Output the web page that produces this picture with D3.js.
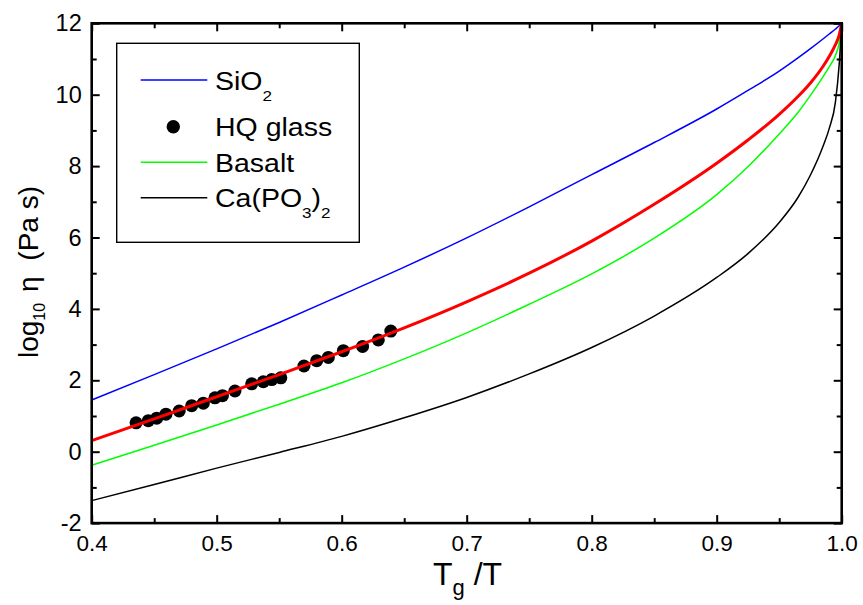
<!DOCTYPE html>
<html>
<head>
<meta charset="utf-8">
<script src="https://cdn.jsdelivr.net/npm/d3@7"></script>
<style>
  body { margin: 0; background: #fff; }
  svg { display: block; font-family: "Liberation Sans", Arial, Helvetica, sans-serif; }
</style>
</head>
<body>
<svg id="chart" width="863" height="605"></svg>
<script>
// ---------- data ----------
const tgT = [0.40, 0.45, 0.50, 0.55, 0.60, 0.65, 0.70, 0.75, 0.80, 0.85, 0.90, 0.925, 0.95, 0.965, 0.975, 0.985, 0.99, 0.995, 0.998, 1.0];
const sio2 = [1.45, 2.16, 2.88, 3.62, 4.39, 5.17, 5.99, 6.86, 7.76, 8.66, 9.60, 10.12, 10.66, 11.03, 11.29, 11.56, 11.70, 11.84, 11.93, 12.0];
const hqFit = [0.31, 0.92, 1.54, 2.16, 2.80, 3.47, 4.20, 5.00, 5.90, 6.93, 8.08, 8.73, 9.45, 9.95, 10.33, 10.79, 11.07, 11.40, 11.67, 12.0];
const basalt = [-0.38, 0.18, 0.75, 1.33, 1.93, 2.60, 3.33, 4.13, 4.98, 5.98, 7.20, 7.98, 8.90, 9.50, 9.98, 10.50, 10.78, 11.10, 11.45, 12.0];
const capo3 = [-1.37, -0.92, -0.46, -0.02, 0.43, 0.95, 1.52, 2.18, 2.92, 3.80, 4.88, 5.55, 6.42, 7.12, 7.75, 8.55, 9.05, 9.80, 10.85, 12.0];

const hqX = [0.4355, 0.4453, 0.452, 0.4594, 0.470, 0.480, 0.4893, 0.4986, 0.5046, 0.5146, 0.528, 0.5373, 0.544, 0.5513, 0.5698, 0.580, 0.5893, 0.6013, 0.6167, 0.6293, 0.6393];
const hqY = [0.81, 0.87, 0.94, 1.05, 1.14, 1.29, 1.36, 1.51, 1.57, 1.70, 1.90, 1.96, 2.02, 2.07, 2.40, 2.55, 2.64, 2.83, 2.95, 3.13, 3.38];

const xTicks = [0.4, 0.5, 0.6, 0.7, 0.8, 0.9, 1.0];
const xTickLabels = ["0.4", "0.5", "0.6", "0.7", "0.8", "0.9", "1.0"];
const xMinor = [0.45, 0.55, 0.65, 0.75, 0.85, 0.95];
const yTicks = [-2, 0, 2, 4, 6, 8, 10, 12];
const yTickLabels = ["-2", "0", "2", "4", "6", "8", "10", "12"];
const yMinor = [-1, 1, 3, 5, 7, 9, 11];

const seriesNames = ["SiO", "HQ glass", "Basalt", "Ca(PO"];
const colors = { sio2: "#0000ff", fit: "#ff0000", basalt: "#00ff00", capo3: "#000000" };

// ---------- layout ----------
const svg = d3.select("#chart");
const L = 91.7, R = 841.7, T = 23.3, B = 523.1;
const x = d3.scaleLinear().domain([0.4, 1.0]).range([L, R]);
const y = d3.scaleLinear().domain([-2, 12]).range([B, T]);

// ---------- axes (ticks inward) ----------
function styleAxis(g) {
  g.select(".domain").remove();
  g.selectAll(".tick line").attr("stroke", "#000").attr("stroke-width", 2);
  g.selectAll(".tick text").attr("fill", "#000");
}
svg.append("g").attr("transform", `translate(0,${B})`)
  .call(d3.axisBottom(x).tickValues(xTicks).tickSize(-8).tickPadding(12)
    .tickFormat((d, i) => xTickLabels[i]))
  .call(styleAxis)
  .selectAll("text").attr("font-size", 22.5).attr("font-family", "Liberation Sans, Arial, sans-serif");
svg.append("g").attr("transform", `translate(0,${B})`)
  .call(d3.axisBottom(x).tickValues(xMinor).tickSize(-5).tickFormat(""))
  .call(styleAxis);
svg.append("g").attr("transform", `translate(0,${T})`)
  .call(d3.axisTop(x).tickValues(xTicks).tickSize(-8).tickFormat(""))
  .call(styleAxis);
svg.append("g").attr("transform", `translate(0,${T})`)
  .call(d3.axisTop(x).tickValues(xMinor).tickSize(-5).tickFormat(""))
  .call(styleAxis);
svg.append("g").attr("transform", `translate(${L},0)`)
  .call(d3.axisLeft(y).tickValues(yTicks).tickSize(-8).tickPadding(10)
    .tickFormat((d, i) => yTickLabels[i]))
  .call(styleAxis)
  .selectAll("text").attr("font-size", 23.5).attr("font-family", "Liberation Sans, Arial, sans-serif");
svg.append("g").attr("transform", `translate(${L},0)`)
  .call(d3.axisLeft(y).tickValues(yMinor).tickSize(-5).tickFormat(""))
  .call(styleAxis);
svg.append("g").attr("transform", `translate(${R},0)`)
  .call(d3.axisRight(y).tickValues(yTicks).tickSize(-8).tickFormat(""))
  .call(styleAxis);
svg.append("g").attr("transform", `translate(${R},0)`)
  .call(d3.axisRight(y).tickValues(yMinor).tickSize(-5).tickFormat(""))
  .call(styleAxis);

// ---------- curves ----------
const plot = svg.append("g");
const line = d3.line().x(d => x(d[0])).y(d => y(d[1])).curve(d3.curveMonotoneX);
function drawSeries(vals, color, width) {
  plot.append("path")
    .datum(tgT.map((t, i) => [t, vals[i]]))
    .attr("d", line)
    .attr("fill", "none")
    .attr("stroke", color)
    .attr("stroke-width", width)
    .attr("stroke-linejoin", "round");
}
drawSeries(sio2, colors.sio2, 1.5);
drawSeries(basalt, colors.basalt, 1.5);
drawSeries(capo3, colors.capo3, 1.5);

plot.selectAll("circle.hq")
  .data(hqX.map((t, i) => [t, hqY[i]]))
  .join("circle")
  .attr("class", "hq")
  .attr("cx", d => x(d[0]))
  .attr("cy", d => y(d[1]))
  .attr("r", 6.5)
  .attr("fill", "#000");

drawSeries(hqFit, colors.fit, 3);

// ---------- frame ----------
svg.append("rect")
  .attr("x", L).attr("y", T).attr("width", R - L).attr("height", B - T)
  .attr("fill", "none").attr("stroke", "#000").attr("stroke-width", 2.6);

// ---------- legend ----------
const lg = svg.append("g");
lg.append("rect").attr("x", 116.7).attr("y", 43.3).attr("width", 242.6).attr("height", 199)
  .attr("fill", "#fff").attr("stroke", "#000").attr("stroke-width", 1.4);

const legendRows = [
  { type: "line", color: colors.sio2, ly: 80, base: 90, name: seriesNames[0], subs: [["2", 11]] },
  { type: "dot", ly: 126.7, base: 136, name: seriesNames[1], subs: [] },
  { type: "line", color: colors.basalt, ly: 162.3, base: 171.7, name: seriesNames[2], subs: [] },
  { type: "line", color: colors.capo3, ly: 197.7, base: 206.7, name: seriesNames[3], subs: [["3", 11.5], [")", -11.5], ["2", 11.5]] }
];
legendRows.forEach(r => {
  if (r.type === "line") {
    lg.append("line").attr("x1", 140.7).attr("x2", 207.3).attr("y1", r.ly).attr("y2", r.ly)
      .attr("stroke", r.color).attr("stroke-width", 1.6);
  } else {
    lg.append("circle").attr("cx", 173.3).attr("cy", r.ly).attr("r", 6.7).attr("fill", "#000");
  }
  const t = lg.append("text")
    .attr("transform", `translate(215,${r.base}) scale(1.14,1)`)
    .attr("font-size", 25).attr("fill", "#000");
  t.append("tspan").text(r.name);
  r.subs.forEach(([s, dy]) => {
    const big = s === ")";
    t.append("tspan").attr("dy", dy).attr("font-size", big ? 25 : 15).text(s);
  });
});

// ---------- axis titles ----------
const xt = svg.append("text").attr("x", 433).attr("y", 585).attr("font-size", 32).attr("fill", "#000");
xt.append("tspan").text("T");
xt.append("tspan").attr("dy", 10).attr("font-size", 22).text("g");
xt.append("tspan").attr("dy", -10).text(" /T");

const yt = svg.append("text")
  .attr("transform", "translate(38,272) rotate(-90)")
  .attr("text-anchor", "middle")
  .attr("font-size", 28).attr("fill", "#000");
yt.append("tspan").text("log");
yt.append("tspan").attr("dy", 7).attr("font-size", 16).text("10");
yt.append("tspan").attr("dy", -7).attr("dx", 3).text(" η");
yt.append("tspan").attr("dx", 8).text(" (Pa s)");
</script>
</body>
</html>
